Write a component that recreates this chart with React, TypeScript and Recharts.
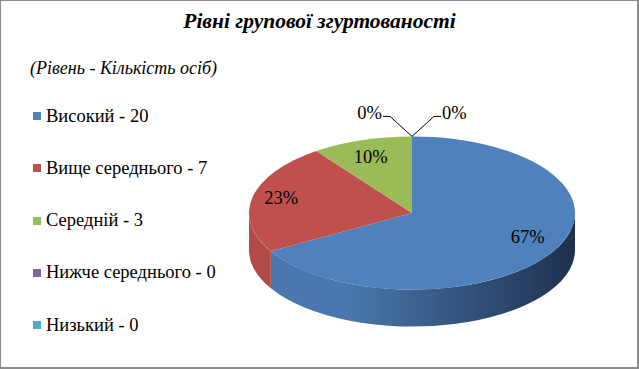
import React from "react";
import { PieChart, Pie, Cell, Legend } from "recharts";

const categories = ["Високий", "Вище середнього", "Середній", "Нижче середнього", "Низький"];
const counts = [20, 7, 3, 0, 0];
const colors = ["#4F81BD", "#C0504D", "#9BBB59", "#8064A2", "#4BACC6"];
const sideDark = ["#1E314D", "#7E3230", "#5F7434", "#4C3C62", "#2D6878"];
const sideLight = ["#4A77AD", "#B04A47", "#8EAB51", "#755C95", "#45A0B8"];
const title = "Рівні групової згуртованості";
const subtitle = "(Рівень - Кількість осіб)";

const data = categories.map((name, i) => ({ name, value: counts[i] }));

const RY_RATIO = 0.47;
const DEPTH = 37;
const FONT = "'Liberation Serif', 'Times New Roman', serif";

const RAD = Math.PI / 180;

function ellipseShape(props: any) {
  const { cx, cy, outerRadius, startAngle, endAngle, fill, index } = props;
  const rx = outerRadius;
  const ry = outerRadius * RY_RATIO;
  const a0 = Math.min(startAngle, endAngle);
  const a1 = Math.max(startAngle, endAngle);
  if (a1 - a0 <= 0.0001) return <g />;
  const pt = (a: number, dy = 0) => [cx + rx * Math.cos(a * RAD), cy - ry * Math.sin(a * RAD) + dy];
  const p0 = pt(startAngle);
  const p1 = pt(endAngle);
  const large = a1 - a0 > 180 ? 1 : 0;
  const sweep = startAngle > endAngle ? 1 : 0;
  const top = `M${cx},${cy} L${p0[0]},${p0[1]} A${rx},${ry} 0 ${large} ${sweep} ${p1[0]},${p1[1]} Z`;

  const sides: any[] = [];
  for (let k = -2; k <= 1; k++) {
    const lo = Math.max(a0, -180 + 360 * k);
    const hi = Math.min(a1, 0 + 360 * k);
    if (hi - lo > 0.0001) {
      const s0 = pt(hi);
      const s1 = pt(lo);
      const s1b = pt(lo, DEPTH);
      const s0b = pt(hi, DEPTH);
      const lg = hi - lo > 180 ? 1 : 0;
      const d = `M${s0[0]},${s0[1]} A${rx},${ry} 0 ${lg} 1 ${s1[0]},${s1[1]} L${s1b[0]},${s1b[1]} A${rx},${ry} 0 ${lg} 0 ${s0b[0]},${s0b[1]} Z`;
      sides.push(d);
    }
  }
  const gid = `side-grad-${index}`;
  return (
    <g>
      <defs>
        <linearGradient id={gid} x1={cx - rx} x2={cx + rx} y1={0} y2={0} gradientUnits="userSpaceOnUse">
          <stop offset="0%" stopColor={sideLight[index]} />
          <stop offset="30%" stopColor={sideLight[index]} />
          <stop offset="100%" stopColor={sideDark[index]} />
        </linearGradient>
      </defs>
      {sides.map((d, i) => (
        <path key={i} d={d} fill={`url(#${gid})`} stroke="none" />
      ))}
      <path d={top} fill={fill} stroke="none" />
    </g>
  );
}

function renderLabel(props: any) {
  const { cx, cy, midAngle, outerRadius, percent, index } = props;
  const rx = outerRadius;
  const ry = outerRadius * RY_RATIO;
  const txt = `${Math.round(percent * 100)}%`;
  const style = { fontFamily: FONT, fontSize: 18.5, fill: "#000" };
  if (percent === 0) {
    const topY = cy - ry;
    const left = index === 3;
    const dir = left ? -1 : 1;
    const ex = cx + dir * 22;
    const ey = topY - 20;
    const hx = ex + dir * 7;
    return (
      <g>
        <polyline points={`${cx},${topY} ${ex},${ey} ${hx},${ey}`} fill="none" stroke="#000" strokeWidth={1} />
        <text x={hx + dir * 1} y={ey + 3} textAnchor={left ? "end" : "start"} style={style}>
          {txt}
        </text>
      </g>
    );
  }
  const x = cx + rx * Math.cos(midAngle * RAD) * 0.82;
  const y = cy - ry * Math.sin(midAngle * RAD) * 0.72 - 4;
  return (
    <text x={x} y={y} textAnchor="middle" dominantBaseline="central" style={style}>
      {txt}
    </text>
  );
}

function LegendContent() {
  return (
    <div style={{ fontFamily: FONT }}>
      {categories.map((name, i) => (
        <div
          key={i}
          style={{
            position: "absolute",
            left: 33,
            top: 105 + i * 52.3,
            height: 22,
            display: "flex",
            alignItems: "center",
            fontSize: 18.5,
            fontFamily: FONT,
            color: "#000",
            whiteSpace: "nowrap",
          }}
        >
          <span style={{ display: "inline-block", width: 8, height: 8, background: colors[i], marginRight: 5 }} />
          <span>{`${name} - ${counts[i]}`}</span>
        </div>
      ))}
    </div>
  );
}

export default function App() {
  return (
    <div
      style={{
        position: "fixed",
        left: 0,
        top: 0,
        width: 639,
        height: 369,
        background: "#fff",
        boxSizing: "border-box",
        borderStyle: "solid",
        borderColor: "#8a8a8a",
        borderWidth: "1px 2px 2px 1px",
        overflow: "hidden",
        fontFamily: FONT,
      }}
    >
      <div style={{ position: "absolute", left: -1, top: -1, width: 639, height: 369 }}>
        <div
          style={{
            position: "absolute",
            left: 0,
            top: 9,
            width: 639,
            textAlign: "center",
            fontFamily: FONT,
            fontSize: 21.5,
            fontWeight: "bold",
            fontStyle: "italic",
            color: "#000",
          }}
        >
          {title}
        </div>
        <div
          style={{
            position: "absolute",
            left: 30,
            top: 58,
            fontFamily: FONT,
            fontSize: 18,
            fontStyle: "italic",
            color: "#000",
            whiteSpace: "nowrap",
          }}
        >
          {subtitle}
        </div>
        <PieChart
          width={639}
          height={369}
          margin={{ top: 0, right: 0, bottom: 0, left: 0 }}
          style={{ position: "absolute", left: 0, top: 0 }}
        >
          <Pie
            data={data}
            dataKey="value"
            nameKey="name"
            cx={412}
            cy={213}
            outerRadius={163}
            startAngle={90}
            endAngle={-270}
            isAnimationActive={false}
            stroke="none"
            shape={ellipseShape}
            activeShape={ellipseShape}
            label={renderLabel}
            labelLine={false}
          >
            {data.map((_, i) => (
              <Cell key={i} fill={colors[i]} />
            ))}
          </Pie>
          <Legend
            content={LegendContent}
            wrapperStyle={{ position: "absolute", left: 0, top: 0, width: 1, height: 1 }}
          />
        </PieChart>
      </div>
    </div>
  );
}
